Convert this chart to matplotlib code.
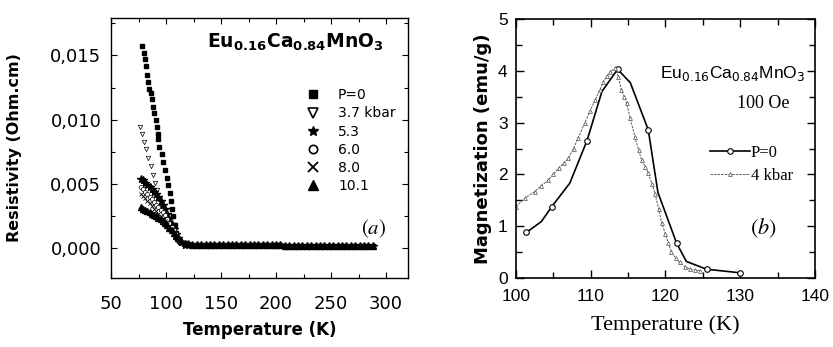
import matplotlib
matplotlib.use("Agg")
import matplotlib.pyplot as plt
from matplotlib.lines import Line2D
from matplotlib.ticker import MultipleLocator, FuncFormatter

# --- (a) resistivity vs temperature, Eu0.16Ca0.84MnO3 under pressure ---
T_p0 = [78.5, 80, 81, 81.5, 82.7, 83.3, 84.8, 86.4, 87, 88.5, 89.4, 90.6, 91.5, 92.4,
        93, 94, 96, 97.5, 99, 100.5, 102, 103.3, 104.5, 105.5, 106.6, 108, 109.5, 112.5, 116]
rho_p0 = [0.01573, 0.0152, 0.0147, 0.0142, 0.0135, 0.0129, 0.0124, 0.0121, 0.0116, 0.0110,
          0.0105, 0.0100, 0.0094, 0.0089, 0.0085, 0.0079, 0.0073, 0.0067, 0.0061, 0.0055,
          0.0049, 0.0043, 0.0037, 0.0031, 0.0025, 0.0018, 0.0012, 0.0006, 0.0004]

T_37 = [76.5, 78, 80, 82, 84, 86, 88, 90, 92, 94, 96, 98, 100, 102, 104, 106, 108, 110, 113, 116]
rho_37 = [0.0094, 0.0089, 0.0083, 0.0077, 0.0070, 0.0064, 0.0057, 0.0051, 0.0045, 0.0039,
          0.0033, 0.0027, 0.0022, 0.0018, 0.0014, 0.0011, 0.0008, 0.0006, 0.0004, 0.0003]

T_hi = [77, 79, 81, 83, 85, 87, 89, 91, 93, 95, 97, 99, 101, 103, 105, 107, 109, 111, 114, 117]
rho_53 = [0.0054, 0.0053, 0.0051, 0.0049, 0.0048, 0.0046, 0.0044, 0.0042, 0.0040, 0.0037,
          0.0034, 0.0031, 0.0027, 0.0023, 0.0019, 0.0015, 0.0011, 0.0008, 0.0005, 0.0003]
rho_60 = [0.0048, 0.0046, 0.0044, 0.0042, 0.0040, 0.0038, 0.0036, 0.0034, 0.0032, 0.0030,
          0.0028, 0.0026, 0.0023, 0.0020, 0.0017, 0.0014, 0.0011, 0.0008, 0.0005, 0.0003]
rho_80 = [0.0042, 0.0041, 0.0039, 0.0037, 0.0035, 0.0033, 0.0031, 0.0029, 0.0027, 0.0025,
          0.0023, 0.0021, 0.0019, 0.0017, 0.0015, 0.0012, 0.0010, 0.0008, 0.0005, 0.0003]
rho_101 = [0.0032, 0.0031, 0.0030, 0.0029, 0.0028, 0.0027, 0.0026, 0.0025, 0.0024, 0.0023,
           0.0021, 0.0020, 0.0018, 0.0016, 0.0014, 0.0012, 0.0010, 0.0008, 0.0006, 0.0004]

# flat high-temperature part, shared by all pressures
T_tail = [120, 124, 128, 132, 136, 140, 144, 148, 152, 156, 160, 164, 168, 172, 176, 180,
          184, 188, 192, 196, 200, 204, 208, 212, 216, 220, 224, 228, 232, 236, 240, 244,
          248, 252, 256, 260, 264, 268, 272, 276, 280, 284, 288]
rho_tail = [0.00034, 0.00030, 0.00028, 0.00027, 0.00026, 0.00026, 0.00025, 0.00025, 0.00025,
            0.00024, 0.00024, 0.00024, 0.00024, 0.00024, 0.00023, 0.00023, 0.00023, 0.00023,
            0.00023, 0.00023, 0.00023, 0.00023, 0.00022, 0.00022, 0.00022, 0.00022, 0.00022,
            0.00022, 0.00022, 0.00022, 0.00022, 0.00022, 0.00022, 0.00022, 0.00022, 0.00022,
            0.00022, 0.00022, 0.00022, 0.00022, 0.00022, 0.00022, 0.00022]

# --- (b) magnetization vs temperature at 100 Oe ---
T_m0 = [101.4, 103.4, 104.8, 107.2, 109.5, 111.5, 113.6, 115.3, 117.7, 119.0, 121.5, 122.8, 125.5, 130.0]
M_m0 = [0.88, 1.09, 1.38, 1.83, 2.65, 3.60, 4.03, 3.77, 2.86, 1.65, 0.67, 0.32, 0.17, 0.10]
m0_marked = [0, 2, 4, 6, 8, 10, 12, 13]

T_m4 = [100.0, 101.2, 102.5, 103.4, 104.3, 105.0, 105.7, 106.4, 107.0, 107.7, 108.3, 109.2,
        109.9, 110.6, 111.2, 111.7, 112.2, 112.6, 113.2, 113.7, 114.1, 114.5, 114.8, 115.3,
        115.9, 116.4, 116.8, 117.3, 117.7, 118.2, 118.6, 119.1, 119.5, 120.0, 120.4, 120.8,
        121.4, 121.9, 122.6, 123.3, 124.0, 124.6]
M_m4 = [1.38, 1.54, 1.67, 1.78, 1.89, 2.00, 2.12, 2.22, 2.31, 2.50, 2.70, 2.99, 3.22, 3.44,
        3.62, 3.79, 3.90, 3.98, 4.05, 3.89, 3.63, 3.50, 3.37, 3.08, 2.73, 2.48, 2.28, 2.15,
        2.02, 1.82, 1.63, 1.33, 1.06, 0.85, 0.67, 0.50, 0.38, 0.30, 0.22, 0.17, 0.15, 0.14]

sans = "DejaVu Sans"
serif = "Liberation Serif"
arial = "Liberation Sans"

fig = plt.figure(figsize=(8.33, 3.47), dpi=100)
axL = fig.add_axes([0.1333, 0.1988, 0.3565, 0.7493])
axR = fig.add_axes([0.6194, 0.1988, 0.3589, 0.7464])

# ---------- left panel ----------
series = [
    (T_p0, rho_p0, dict(marker="s", ms=3.2, mfc="k", mec="k"), "P=0"),
    (T_37, rho_37, dict(marker="v", ms=3.2, mfc="white", mec="k", mew=0.5), "3.7 kbar"),
    (T_hi, rho_53, dict(marker="*", ms=5.5, mfc="k", mec="k"), "5.3"),
    (T_hi, rho_60, dict(marker="o", ms=3, mfc="white", mec="k", mew=0.5), "6.0"),
    (T_hi, rho_80, dict(marker="x", ms=3, mec="k", mew=0.6), "8.0"),
    (T_hi, rho_101, dict(marker="^", ms=4.5, mfc="k", mec="k"), "10.1"),
]
for T, rho, style, lab in series:
    axL.plot(T + T_tail, rho + rho_tail, ls="none", color="k", **style)

handles = [
    Line2D([], [], ls="none", marker="s", ms=5.5, color="k"),
    Line2D([], [], ls="none", marker="v", ms=6.5, mfc="white", mec="k", mew=1.2),
    Line2D([], [], ls="none", marker="*", ms=7.5, color="k"),
    Line2D([], [], ls="none", marker="o", ms=6, mfc="white", mec="k", mew=1.2),
    Line2D([], [], ls="none", marker="x", ms=7, mec="k", mew=1.3),
    Line2D([], [], ls="none", marker="^", ms=7, color="k"),
]
axL.legend(handles, [s[3] for s in series], loc="upper left", bbox_to_anchor=(0.657, 0.73),
           frameon=False, borderpad=0, borderaxespad=0, handlelength=1.0,
           handletextpad=1.3, labelspacing=0.3, prop=dict(family=sans, size=10))

axL.set_xlim(50, 320)
axL.set_ylim(-0.0023, 0.0179)
axL.xaxis.set_major_locator(MultipleLocator(50))
axL.xaxis.set_minor_locator(MultipleLocator(25))
axL.yaxis.set_major_locator(MultipleLocator(0.005))
axL.yaxis.set_minor_locator(MultipleLocator(0.0025))
axL.yaxis.set_major_formatter(
    FuncFormatter(lambda v, p: f"{abs(v) if abs(v) < 1e-9 else v:.3f}".replace(".", ",")))
axL.tick_params(which="both", direction="in", top=True, right=True, width=0.8)
axL.tick_params(which="major", length=4.5)
axL.tick_params(which="minor", length=3)
axL.tick_params(axis="x", pad=12, labelsize=13)
axL.tick_params(axis="y", pad=7, labelsize=13)
for s in axL.spines.values():
    s.set_linewidth(1.0)

axL.set_xlabel("Temperature (K)", family=sans, weight="bold", size=12)
axL.xaxis.set_label_coords(0.5, -0.165)
axL.set_ylabel("Resistivity (Ohm.cm)", family=sans, weight="bold", size=11.5)
axL.yaxis.set_label_coords(-0.30, 0.5)

axL.text(0.324, 0.885, r"Eu$_{\mathbf{0.16}}$Ca$_{\mathbf{0.84}}$MnO$_{\mathbf{3}}$",
         transform=axL.transAxes, family=sans, weight="bold", size=13.5,
         va="baseline", ha="left", math_fontfamily="dejavusans")
axL.text(0.885, 0.19, r"$(\mathit{a})$", transform=axL.transAxes, size=15,
         ha="center", va="center", math_fontfamily="stix")

# ---------- right panel ----------
axR.plot(T_m0, M_m0, color="k", lw=1.2, marker="o", ms=4, mfc="white", mec="k", mew=0.8,
         markevery=m0_marked, label="P=0")
axR.plot(T_m4, M_m4, color="0.35", lw=0.7, ls=(0, (2.5, 1.2)), marker="^", ms=2.8,
         mfc="white", mec="0.3", mew=0.5, label="4 kbar")

axR.legend(loc="upper left", bbox_to_anchor=(0.649, 0.515), frameon=False, borderpad=0,
           borderaxespad=0, handlelength=2.4, handletextpad=0.05, labelspacing=0.45,
           markerscale=1.0, prop=dict(family=serif, size=12))

axR.set_xlim(100, 140)
axR.set_ylim(0, 5)
axR.xaxis.set_major_locator(MultipleLocator(10))
axR.xaxis.set_minor_locator(MultipleLocator(5))
axR.yaxis.set_major_locator(MultipleLocator(1))
axR.yaxis.set_minor_locator(MultipleLocator(0.5))
axR.tick_params(which="both", direction="in", top=True, right=True, width=1.0)
axR.tick_params(which="major", length=6)
axR.tick_params(which="minor", length=4)
axR.tick_params(axis="x", pad=8, labelsize=12.5, labelfontfamily=arial)
axR.tick_params(axis="y", pad=6, labelsize=12.5, labelfontfamily=arial)
for s in axR.spines.values():
    s.set_linewidth(1.2)

axR.set_xlabel("Temperature (K)", family=serif, size=16)
axR.xaxis.set_label_coords(0.5, -0.145)
axR.set_ylabel("Magnetization (emu/g)", family=sans, weight="bold", size=13)
axR.yaxis.set_label_coords(-0.08, 0.5)

axR.text(0.482, 0.772, r"Eu$_{\mathrm{0.16}}$Ca$_{\mathrm{0.84}}$MnO$_{\mathrm{3}}$",
         transform=axR.transAxes, family=arial, size=12.5,
         va="baseline", ha="left", math_fontfamily="dejavusans")
axR.text(0.739, 0.658, "100 Oe", transform=axR.transAxes, family=serif, size=13,
         va="baseline", ha="left")
axR.text(0.826, 0.193, r"$(\mathit{b})$", transform=axR.transAxes, size=16,
         ha="center", va="center", math_fontfamily="stix")

fig.savefig("out.png", dpi=100)
